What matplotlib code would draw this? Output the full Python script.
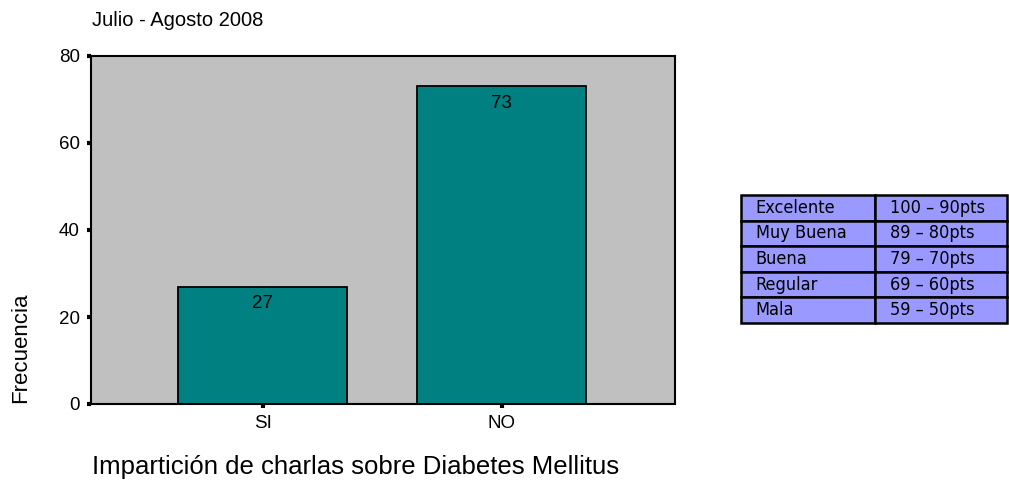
import matplotlib.pyplot as plt

# Frecuencia de impartición de charlas
categorias = ["SI", "NO"]
frecuencias = [27, 73]
y_ticks = [0, 20, 40, 60, 80]

# Escala de calificación
niveles = ["Excelente", "Muy Buena", "Buena", "Regular", "Mala"]
rangos = ["100 \u2013 90pts", "89 \u2013 80pts", "79 \u2013 70pts", "69 \u2013 60pts", "59 \u2013 50pts"]

plt.rcParams['font.family'] = ['Liberation Sans', 'DejaVu Sans']

fig = plt.figure(figsize=(10.09, 4.87), dpi=100)
ax = fig.add_axes([91 / 1009, 83 / 487, 584 / 1009, 348 / 487])
ax.set_facecolor("#c0c0c0")

pos = list(range(len(categorias)))
bars = ax.bar(pos, frecuencias, width=0.707, color="#008080",
              edgecolor="black", linewidth=1.3, zorder=2)
for b, v in zip(bars, frecuencias):
    ax.annotate(str(v), (b.get_x() + b.get_width() / 2, v),
                xytext=(0, -6), textcoords="offset points",
                ha="center", va="top", fontsize=13.5)

ax.set_xlim(-0.718, 1.726)
ax.set_ylim(0, 80)
ax.set_xticks(pos)
ax.set_xticklabels(categorias, fontsize=13.5)
ax.set_yticks(y_ticks)
ax.set_yticklabels([str(t) for t in y_ticks], fontsize=13.5)
ax.tick_params(direction="out", length=3, width=3, pad=5, color="black")
for s in ax.spines.values():
    s.set_linewidth(1.5)
    s.set_color("black")

fig.text(92 / 1009, 1 - 21 / 487, "Julio - Agosto 2008", fontsize=14.5,
         ha="left", va="center")
fig.text(21 / 1009, 1 - 348 / 487, "Frecuencia", fontsize=16,
         rotation=90, ha="center", va="center")
fig.text(92 / 1009, 1 - 467 / 487,
         "Impartición de charlas sobre Diabetes Mellitus", fontsize=18.5,
         ha="left", va="center")

# Tabla de escala
tax = fig.add_axes([741 / 1009, 1 - 323 / 487, 266 / 1009, 128 / 487])
tax.axis("off")
tabla = tax.table(cellText=[[n, r] for n, r in zip(niveles, rangos)],
                  cellColours=[["#9999ff", "#9999ff"]] * len(niveles),
                  colWidths=[134 / 266, 132 / 266], cellLoc="left",
                  bbox=[0, 0, 1, 1])
tabla.auto_set_font_size(False)
for (r, c), cell in tabla.get_celld().items():
    cell.set_linewidth(1.8)
    cell.set_edgecolor("black")
    cell.PAD = 0.11
    txt = cell.get_text()
    txt.set_fontsize(13)
    txt.set_fontfamily(['DejaVu Sans'])
    txt.set_fontstretch('condensed')

fig.savefig("out.png", dpi=100)
